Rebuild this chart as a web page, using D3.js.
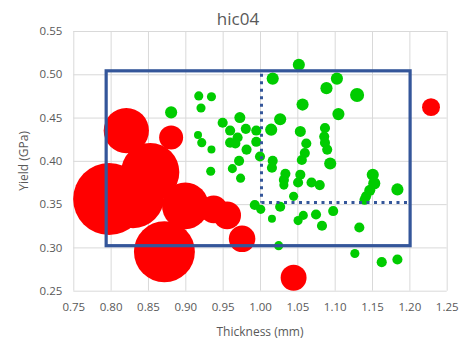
<!DOCTYPE html>
<html>
<head>
<meta charset="utf-8">
<script src="https://cdn.jsdelivr.net/npm/d3@7"></script>
<style>
  html, body { margin: 0; padding: 0; background: #fff; }
  text { font-family: "Open Sans", "Noto Sans", sans-serif; fill: #595959; }
</style>
</head>
<body>
<div id="chart"></div>
<script>
const WIDTH = 460;
const HEIGHT = 339;
const MARGIN = { left: 73.3, right: 13.3, top: 31, bottom: 48.3 };

const COLOR_RED = '#ff0000';
const COLOR_GREEN = '#00cc00';
const COLOR_BOX = '#34569a';
const COLOR_GRID = '#d9d9d9';

const TITLE = 'hic04';
const X_LABEL = 'Thickness (mm)';
const Y_LABEL = 'Yield (GPa)';

const X_TICKS = [0.75, 0.80, 0.85, 0.90, 0.95, 1.00, 1.05, 1.10, 1.15, 1.20, 1.25];
const Y_TICKS = [0.25, 0.30, 0.35, 0.40, 0.45, 0.50, 0.55];

// rejected samples (bubble weight = area)
const RED_X = [0.821, 0.881, 0.853, 0.798, 0.830, 0.872, 0.900, 0.938, 0.956, 0.976, 1.045, 1.229];
const RED_Y = [0.435, 0.427, 0.387, 0.356, 0.358, 0.295, 0.348, 0.344, 0.337, 0.310, 0.265, 0.462];
const RED_W = [32, 9, 53, 81, 60, 58, 34, 12, 12, 11, 10.5, 5];

// accepted samples
const GREEN_X = [
  0.881, 0.918, 0.935, 0.921, 0.950, 0.973, 0.960, 0.981, 0.995, 0.917,
  0.922, 0.935, 0.970, 0.960, 0.967, 0.982, 0.995, 1.000, 0.972, 1.017,
  1.027, 1.015, 1.017, 1.052, 1.057, 1.103, 1.089, 1.130, 1.105, 1.054,
  1.062, 1.060, 1.056, 1.087, 1.086, 1.087, 1.090, 1.094, 1.016, 1.034,
  1.032, 1.032, 1.054, 1.051, 1.069, 1.080, 1.045, 0.993, 1.001, 1.027,
  1.016, 1.058, 1.075, 1.098, 1.051, 1.083, 1.025, 0.934, 0.963, 0.974,
  1.151, 1.153, 1.147, 1.142, 1.140, 1.184, 1.133, 1.127, 1.163, 1.184
];
const GREEN_Y = [
  0.456, 0.475, 0.474, 0.461, 0.444, 0.450, 0.435, 0.437, 0.435, 0.430,
  0.421, 0.413, 0.427, 0.421, 0.420, 0.413, 0.422, 0.405, 0.400, 0.495,
  0.448, 0.436, 0.400, 0.511, 0.465, 0.495, 0.484, 0.476, 0.454, 0.434,
  0.420, 0.409, 0.401, 0.438, 0.428, 0.421, 0.413, 0.397, 0.392, 0.385,
  0.378, 0.372, 0.384, 0.375, 0.375, 0.372, 0.359, 0.349, 0.344, 0.347,
  0.333, 0.337, 0.338, 0.342, 0.331, 0.325, 0.302, 0.388, 0.391, 0.380,
  0.384, 0.374, 0.366, 0.359, 0.355, 0.367, 0.323, 0.293, 0.283, 0.286
];
const GREEN_W = [
  2.3, 1.3, 1.3, 1.3, 1.6, 1.9, 1.6, 1.6, 1.6, 1.0,
  1.3, 1.0, 1.6, 1.6, 1.6, 1.6, 1.6, 1.6, 1.6, 2.3,
  2.3, 2.3, 1.6, 2.3, 2.3, 2.3, 2.3, 3.1, 2.3, 1.9,
  1.6, 1.6, 1.6, 1.6, 1.6, 1.6, 1.6, 2.3, 1.6, 1.6,
  1.6, 1.3, 1.6, 1.6, 1.6, 1.6, 1.3, 1.6, 1.3, 1.6,
  1.0, 1.3, 1.6, 1.6, 1.3, 1.6, 1.3, 1.3, 1.3, 1.3,
  2.3, 2.3, 1.9, 1.6, 1.6, 2.3, 1.6, 1.3, 1.6, 1.6
];

// acceptance window and split lines
const BOX_X = [0.794, 1.201];
const BOX_Y = [0.302, 0.504];
const SPLIT_X = 1.002;
const SPLIT_Y = 0.352;

const x = d3.scaleLinear()
    .domain([0.75, 1.25])
    .range([MARGIN.left, WIDTH - MARGIN.right]);

const y = d3.scaleLinear()
    .domain([0.25, 0.55])
    .range([HEIGHT - MARGIN.bottom, MARGIN.top]);

const r = d3.scaleSqrt()
    .domain([0, 100])
    .range([0, 40]);

const svg = d3.select('#chart')
    .append('svg')
    .attr('width', WIDTH)
    .attr('height', HEIGHT);

function drawGrid() {
    svg.append('g')
        .attr('transform', `translate(0,${HEIGHT - MARGIN.bottom})`)
        .call(d3.axisBottom(x).tickValues(X_TICKS).tickFormat(d3.format('.2f'))
            .tickSize(-(HEIGHT - MARGIN.top - MARGIN.bottom)).tickPadding(12))
        .call(g => g.select('.domain').remove())
        .call(g => g.selectAll('line').attr('stroke', COLOR_GRID))
        .call(g => g.selectAll('text').style('font-size', '11.5px').attr('fill', '#595959'));

    svg.append('g')
        .attr('transform', `translate(${MARGIN.left},0)`)
        .call(d3.axisLeft(y).tickValues(Y_TICKS).tickFormat(d3.format('.2f'))
            .tickSize(-(WIDTH - MARGIN.left - MARGIN.right)).tickPadding(11))
        .call(g => g.select('.domain').remove())
        .call(g => g.selectAll('line').attr('stroke', COLOR_GRID))
        .call(g => g.selectAll('text').style('font-size', '11.5px').attr('fill', '#595959'));
}

function drawBubbles(xs, ys, ws, color) {
    const data = xs.map((d, i) => ({ x: d, y: ys[i], w: ws[i] }));
    svg.append('g')
        .selectAll('circle')
        .data(data)
        .join('circle')
        .attr('cx', d => x(d.x))
        .attr('cy', d => y(d.y))
        .attr('r', d => r(d.w))
        .attr('fill', color);
}

function drawBox() {
    svg.append('rect')
        .attr('x', x(BOX_X[0]))
        .attr('y', y(BOX_Y[1]))
        .attr('width', x(BOX_X[1]) - x(BOX_X[0]))
        .attr('height', y(BOX_Y[0]) - y(BOX_Y[1]))
        .attr('fill', 'none')
        .attr('stroke', COLOR_BOX)
        .attr('stroke-width', 3.2);

    svg.append('line')
        .attr('x1', x(SPLIT_X)).attr('x2', x(SPLIT_X))
        .attr('y1', y(BOX_Y[1]) + 3).attr('y2', y(SPLIT_Y))
        .attr('stroke', COLOR_BOX)
        .attr('stroke-width', 3)
        .attr('stroke-dasharray', '3,4.5');

    svg.append('line')
        .attr('x1', x(SPLIT_X)).attr('x2', x(BOX_X[1]) - 3)
        .attr('y1', y(SPLIT_Y)).attr('y2', y(SPLIT_Y))
        .attr('stroke', COLOR_BOX)
        .attr('stroke-width', 3)
        .attr('stroke-dasharray', '3,4.5');
}

function drawLabels() {
    svg.append('text')
        .attr('x', 238)
        .attr('y', 25)
        .style('text-anchor', 'middle')
        .style('font-size', '17px')
        .text(TITLE);

    svg.append('text')
        .attr('x', (MARGIN.left + WIDTH - MARGIN.right) / 2)
        .attr('y', 336)
        .style('text-anchor', 'middle')
        .style('font-size', '12px')
        .text(X_LABEL);

    svg.append('text')
        .attr('transform', 'rotate(-90)')
        .attr('x', -(MARGIN.top + HEIGHT - MARGIN.bottom) / 2)
        .attr('y', 28)
        .style('text-anchor', 'middle')
        .style('font-size', '12px')
        .text(Y_LABEL);
}

drawGrid();
drawBubbles(GREEN_X, GREEN_Y, GREEN_W, COLOR_GREEN);
drawBubbles(RED_X, RED_Y, RED_W, COLOR_RED);
drawBox();
drawLabels();
</script>
</body>
</html>
